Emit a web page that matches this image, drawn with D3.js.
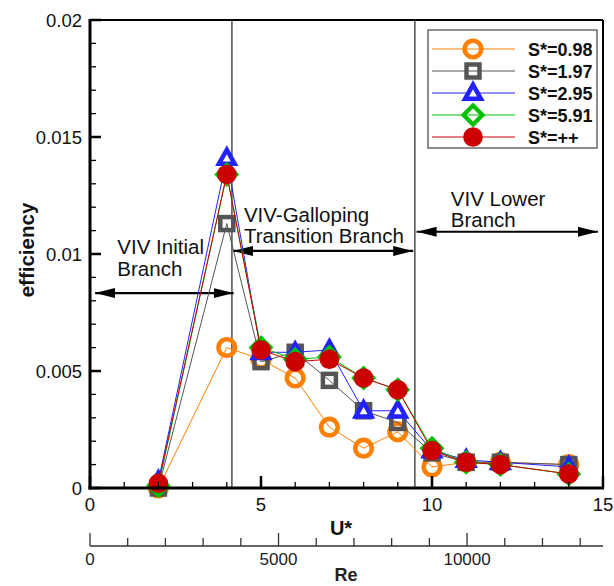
<!DOCTYPE html>
<html>
<head>
<meta charset="utf-8">
<script src="https://cdn.jsdelivr.net/npm/d3@7"></script>
<style>
  html, body { margin: 0; padding: 0; background: #fff; }
  svg { display: block; font-family: "Liberation Sans", Arial, sans-serif; }
</style>
</head>
<body>
<svg id="chart" width="614" height="586"></svg>
<script>
// Reduced velocity values shared by every series
const uStar = [2, 4, 5, 6, 7, 8, 9, 10, 11, 12, 14];

// Efficiency for each stiffness ratio S*
const effS098 = [0.0000, 0.0060, 0.0055, 0.0047, 0.0026, 0.0017, 0.0024, 0.0009, 0.0011, 0.0011, 0.0010];
const effS197 = [0.0000, 0.0113, 0.0054, 0.0058, 0.0046, 0.0033, 0.0028, 0.0015, 0.0011, 0.0011, 0.0010];
const effS295 = [0.0003, 0.0141, 0.0058, 0.0058, 0.0059, 0.0033, 0.0033, 0.0016, 0.0012, 0.0011, 0.0009];
const effS591 = [0.0001, 0.0134, 0.0060, 0.0055, 0.0056, 0.0047, 0.0042, 0.0017, 0.0011, 0.0010, 0.0006];
const effSInf = [0.0002, 0.0134, 0.0059, 0.0054, 0.0055, 0.0047, 0.0042, 0.0016, 0.0011, 0.0010, 0.0006];

const seriesNames = ["S*=0.98", "S*=1.97", "S*=2.95", "S*=5.91", "S*=++"];

// Axis ticks
const uTicks = [0, 5, 10, 15];
const effTicks = [0, 0.005, 0.01, 0.015, 0.02];
const effTickLabels = ["0", "0.005", "0.01", "0.015", "0.02"];
const reTicks = [0, 5000, 10000];
const reFactor = 907;           // Re per unit of U*

// Branch boundaries (U*) and annotation labels
const branchBounds = [4.15, 9.5];
const branchLabels = [
  { lines: ["VIV Initial", "Branch"], u: 0.8, eff: 0.00998, from: 0.15, to: 4.2, arrowEff: 0.00833 },
  { lines: ["VIV-Galloping", "Transition Branch"], u: 4.5, eff: 0.01137, from: 4.18, to: 9.45, arrowEff: 0.01013 },
  { lines: ["VIV Lower", "Branch"], u: 10.55, eff: 0.01207, from: 9.55, to: 14.85, arrowEff: 0.01095 }
];

const svg = d3.select("#chart");
const m = { left: 90, right: 603, top: 20, bottom: 488 };

const x = d3.scaleLinear().domain([0, 15]).range([m.left, m.right]);
const y = d3.scaleLinear().domain([0, 0.02]).range([m.bottom, m.top]);
const re = d3.scaleLinear().domain([0, 15 * reFactor]).range([m.left, m.right]);

const styles = [
  { color: "#ff8000", marker: "circleOpen" },
  { color: "#555555", marker: "square" },
  { color: "#2222ff", marker: "triangle" },
  { color: "#00c000", marker: "diamond" },
  { color: "#cc0000", marker: "circleFilled" }
];
const seriesValues = [effS098, effS197, effS295, effS591, effSInf];

// Frame (top and right)
svg.append("line").attr("x1", m.left).attr("x2", m.right).attr("y1", m.top).attr("y2", m.top)
  .attr("stroke", "#000").attr("stroke-width", 2);
svg.append("line").attr("x1", m.right).attr("x2", m.right).attr("y1", m.top).attr("y2", m.bottom)
  .attr("stroke", "#000").attr("stroke-width", 2);

// Branch boundary lines
branchBounds.forEach(b => {
  svg.append("line").attr("x1", x(b)).attr("x2", x(b)).attr("y1", m.top).attr("y2", m.bottom)
    .attr("stroke", "#222").attr("stroke-width", 1.2);
});

// Arrowhead markers
const defs = svg.append("defs");
defs.append("marker").attr("id", "ahEnd").attr("viewBox", "0 0 20 10")
  .attr("refX", 20).attr("refY", 5).attr("markerWidth", 20).attr("markerHeight", 10)
  .attr("markerUnits", "userSpaceOnUse").attr("orient", "auto")
  .append("path").attr("d", "M0,0 L20,5 L0,10 Z").attr("fill", "#000");
defs.append("marker").attr("id", "ahStart").attr("viewBox", "0 0 20 10")
  .attr("refX", 0).attr("refY", 5).attr("markerWidth", 20).attr("markerHeight", 10)
  .attr("markerUnits", "userSpaceOnUse").attr("orient", "auto")
  .append("path").attr("d", "M20,0 L0,5 L20,10 Z").attr("fill", "#000");

// Branch annotations
branchLabels.forEach(a => {
  const t = svg.append("text").attr("x", x(a.u)).attr("y", y(a.eff))
    .attr("font-size", 20.5).attr("fill", "#111");
  a.lines.forEach((l, i) => {
    t.append("tspan").attr("x", x(a.u)).attr("dy", i === 0 ? 0 : 21.5).text(l);
  });
  svg.append("line").attr("x1", x(a.from)).attr("x2", x(a.to))
    .attr("y1", y(a.arrowEff)).attr("y2", y(a.arrowEff))
    .attr("stroke", "#000").attr("stroke-width", 2.2)
    .attr("marker-start", "url(#ahStart)").attr("marker-end", "url(#ahEnd)");
});

// Marker drawing
function drawMarker(g, type, color, cx, cy) {
  if (type === "circleOpen") {
    g.append("circle").attr("cx", cx).attr("cy", cy).attr("r", 8.3)
      .attr("fill", "none").attr("stroke", color).attr("stroke-width", 4.6);
  } else if (type === "square") {
    g.append("rect").attr("x", cx - 6.5).attr("y", cy - 6.5).attr("width", 13).attr("height", 13)
      .attr("fill", "none").attr("stroke", color).attr("stroke-width", 4.5);
  } else if (type === "triangle") {
    const s = 8.3;
    g.append("path").attr("d", `M${cx},${cy - s} L${cx + s * 0.95},${cy + s * 0.7} L${cx - s * 0.95},${cy + s * 0.7} Z`)
      .attr("fill", "#fff").attr("stroke", color).attr("stroke-width", 4.5).attr("stroke-linejoin", "miter");
  } else if (type === "diamond") {
    const s = 9.5;
    g.append("path").attr("d", `M${cx},${cy - s} L${cx + s},${cy} L${cx},${cy + s} L${cx - s},${cy} Z`)
      .attr("fill", "none").attr("stroke", color).attr("stroke-width", 4.2);
  } else {
    g.append("circle").attr("cx", cx).attr("cy", cy).attr("r", 9.8).attr("fill", color);
  }
}

// Series lines and markers
const line = d3.line().x(d => x(d[0])).y(d => y(d[1]));
seriesValues.forEach((vals, si) => {
  const st = styles[si];
  const pts = uStar.map((u, i) => [u, vals[i]]);
  const g = svg.append("g");
  g.append("path").datum(pts).attr("d", line).attr("fill", "none")
    .attr("stroke", st.color).attr("stroke-width", 1);
  pts.forEach(p => drawMarker(g, st.marker, st.color, x(p[0]), y(p[1])));
});

// Legend
const lg = svg.append("g");
lg.append("rect").attr("x", 428).attr("y", 30).attr("width", 169).attr("height", 118)
  .attr("fill", "#fff").attr("stroke", "#444").attr("stroke-width", 1.2);
seriesNames.forEach((name, i) => {
  const ly = 49 + i * 22;
  lg.append("line").attr("x1", 432).attr("x2", 515).attr("y1", ly).attr("y2", ly)
    .attr("stroke", styles[i].color).attr("stroke-width", 1);
  drawMarker(lg, styles[i].marker, styles[i].color, 473, ly);
  lg.append("text").attr("x", 528).attr("y", ly + 6.5).attr("font-size", 18)
    .attr("font-weight", "bold").attr("fill", "#111").text(name);
});

// Y axis
svg.append("line").attr("x1", m.left).attr("x2", m.left).attr("y1", m.top - 1).attr("y2", m.bottom + 1.5)
  .attr("stroke", "#000").attr("stroke-width", 3);
d3.range(0, 0.02001, 0.001).forEach(v => {
  const major = Math.abs(v / 0.005 - Math.round(v / 0.005)) < 1e-6;
  svg.append("line").attr("x1", m.left).attr("x2", m.left + (major ? 11 : 6))
    .attr("y1", y(v)).attr("y2", y(v)).attr("stroke", "#000").attr("stroke-width", major ? 2.5 : 1.3);
});
effTicks.forEach((v, i) => {
  svg.append("text").attr("x", 82).attr("y", y(v)).attr("dy", "0.36em")
    .attr("text-anchor", "end").attr("font-size", 18.5).attr("fill", "#111").text(effTickLabels[i]);
});
svg.append("text").attr("transform", `translate(34,250) rotate(-90)`)
  .attr("text-anchor", "middle").attr("font-size", 20.5).attr("font-weight", "bold")
  .attr("fill", "#111").text("efficiency");

// X axis (U*)
svg.append("line").attr("x1", m.left - 1.5).attr("x2", m.right + 1).attr("y1", m.bottom).attr("y2", m.bottom)
  .attr("stroke", "#000").attr("stroke-width", 3);
d3.range(0, 15.001, 1).forEach(v => {
  const major = v % 5 === 0;
  svg.append("line").attr("x1", x(v)).attr("x2", x(v)).attr("y1", m.bottom)
    .attr("y2", m.bottom - (major ? 12 : 6)).attr("stroke", "#000").attr("stroke-width", major ? 2.5 : 1.3);
});
uTicks.forEach(v => {
  svg.append("text").attr("x", x(v)).attr("y", 511).attr("text-anchor", "middle")
    .attr("font-size", 18.5).attr("fill", "#111").text(v);
});
svg.append("text").attr("x", 341).attr("y", 535).attr("text-anchor", "middle")
  .attr("font-size", 20).attr("font-weight", "bold").attr("fill", "#111").text("U*");

// Secondary axis (Re)
const reY = 546;
svg.append("line").attr("x1", re(0)).attr("x2", re(15 * reFactor)).attr("y1", reY).attr("y2", reY)
  .attr("stroke", "#333").attr("stroke-width", 1.5);
d3.range(0, 13001, 1000).forEach(v => {
  const major = v % 5000 === 0;
  svg.append("line").attr("x1", re(v)).attr("x2", re(v)).attr("y1", reY)
    .attr("y2", reY - (major ? 13 : 8)).attr("stroke", "#333").attr("stroke-width", 1.3);
});
reTicks.forEach(v => {
  svg.append("text").attr("x", re(v)).attr("y", 565).attr("text-anchor", "middle")
    .attr("font-size", 17).attr("fill", "#222").text(v);
});
svg.append("text").attr("x", 346).attr("y", 581).attr("text-anchor", "middle")
  .attr("font-size", 18).attr("font-weight", "bold").attr("fill", "#222").text("Re");
</script>
</body>
</html>
